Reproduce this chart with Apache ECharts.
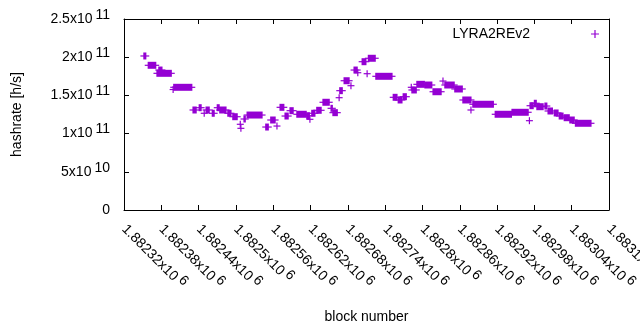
<!DOCTYPE html>
<html>
<head>
<meta charset="utf-8">
<script src="https://cdn.jsdelivr.net/npm/echarts@6/dist/echarts.min.js"></script>
<style>
    html, body { margin: 0; padding: 0; background: #fff; }
    #myChart { width: 640px; height: 330px; }
</style>
</head>
<body>
<div id="myChart"></div>
<script>
    // runs of blocks with the same hashrate (first block, last block, value)
    var runStart = [1882352, 1882359, 1882373, 1882376, 1882399, 1882400, 1882431, 1882441, 1882449, 1882452,
        1882462, 1882470, 1882474, 1882487, 1882495, 1882507, 1882508, 1882513, 1882518, 1882548,
        1882556, 1882566, 1882571, 1882579, 1882587, 1882598, 1882614, 1882619, 1882622, 1882630,
        1882640, 1882653, 1882656, 1882666, 1882667, 1882674, 1882685, 1882690, 1882696, 1882703,
        1882711, 1882713, 1882725, 1882753, 1882761, 1882769, 1882782, 1882783, 1882791, 1882804,
        1882817, 1882833, 1882836, 1882852, 1882865, 1882878, 1882881, 1882917, 1882944, 1882972,
        1882973, 1882980, 1882984, 1882997, 1883002, 1883012, 1883020, 1883028, 1883037, 1883046]
    var runEnd = [1882355, 1882371, 1882396, 1882381, 1882399, 1882429, 1882436, 1882444, 1882449, 1882457,
        1882465, 1882473, 1882484, 1882492, 1882502, 1882507, 1882508, 1882515, 1882542, 1882552,
        1882563, 1882566, 1882577, 1882584, 1882592, 1882613, 1882618, 1882619, 1882627, 1882637,
        1882650, 1882655, 1882663, 1882666, 1882671, 1882682, 1882685, 1882695, 1882696, 1882709,
        1882711, 1882724, 1882751, 1882759, 1882767, 1882774, 1882782, 1882790, 1882803, 1882815,
        1882830, 1882833, 1882851, 1882864, 1882878, 1882878, 1882914, 1882943, 1882970, 1882972,
        1882978, 1882983, 1882994, 1883000, 1883009, 1883018, 1883026, 1883036, 1883044, 1883071]
    var hashrate = [2.016e11, 1.894e11, 1.789e11, 1.832e11, 1.577e11, 1.606e11, 1.309e11, 1.339e11, 1.266e11, 1.309e11,
        1.266e11, 1.339e11, 1.309e11, 1.266e11, 1.221e11, 1.122e11, 1.069e11, 1.191e11, 1.243e11, 1.086e11,
        1.178e11, 1.099e11, 1.344e11, 1.230e11, 1.300e11, 1.253e11, 1.234e11, 1.187e11, 1.266e11, 1.305e11,
        1.410e11, 1.331e11, 1.274e11, 1.470e11, 1.562e11, 1.692e11, 1.627e11, 1.832e11, 1.797e11, 1.941e11,
        1.784e11, 1.986e11, 1.750e11, 1.475e11, 1.440e11, 1.483e11, 1.606e11, 1.571e11, 1.645e11, 1.636e11,
        1.548e11, 1.688e11, 1.636e11, 1.584e11, 1.440e11, 1.309e11, 1.384e11, 1.253e11, 1.279e11, 1.169e11,
        1.365e11, 1.397e11, 1.352e11, 1.361e11, 1.296e11, 1.270e11, 1.230e11, 1.208e11, 1.178e11, 1.135e11]

    var seriesName = 'LYRA2REv2'
    var color = '#9400d3'
    var font = 'Liberation Sans'
    var plusPath = 'path://M0,3.4H8V4.6H0Z M3.4,0H4.6V8H3.4Z'

    var data = []
    for (var i = 0; i < runStart.length; i++) {
        data.push([runStart[i], runEnd[i], hashrate[i]])
    }

    // 2.5x10^11 style labels, exponent raised
    function sciLabel (v) {
        if (v === 0) {
            return '0'
        }
        var exp = Math.floor(Math.log10(Math.abs(v)) + 1e-9)
        var mant = parseFloat((v / Math.pow(10, exp)).toPrecision(6))
        return mant + 'x10{e|' + exp + '}'
    }
    var rich = {
        e: { fontFamily: font, fontSize: 14, color: '#000', padding: [0, 0, 8, 3] }
    }

    var myChart = echarts.init(document.getElementById('myChart'))
    myChart.setOption({
        animation: false,
        textStyle: { fontFamily: font, fontSize: 14 },
        legend: {
            right: 36,
            top: 22,
            align: 'right',
            itemWidth: 8,
            itemHeight: 8,
            textStyle: { fontFamily: font, fontSize: 14, color: '#000', padding: [0, 56, 0, 0] },
            data: [{ name: seriesName, icon: plusPath }]
        },
        grid: { left: 124, right: 31, top: 19, bottom: 120, containLabel: false, outerBoundsMode: 'none' },
        xAxis: [{
            type: 'value',
            min: 1882320,
            max: 1883100,
            interval: 60,
            name: 'block number',
            nameLocation: 'middle',
            nameGap: 100,
            nameTextStyle: { fontFamily: font, fontSize: 14, color: '#000' },
            axisLine: { onZero: false, lineStyle: { color: '#000', width: 1 } },
            axisTick: { inside: true, length: 5, lineStyle: { color: '#000' } },
            splitLine: { show: false },
            axisLabel: {
                interval: 0,
                rotate: -45,
                margin: 17,
                color: '#000',
                fontFamily: font,
                fontSize: 14,
                hideOverlap: false,
                formatter: function (v) { return sciLabel(v) },
                rich: rich
            }
        }, {
            type: 'value',
            position: 'top',
            min: 1882320,
            max: 1883100,
            interval: 60,
            axisLine: { onZero: false, lineStyle: { color: '#000', width: 1 } },
            axisTick: { inside: true, length: 5, lineStyle: { color: '#000' } },
            splitLine: { show: false },
            axisLabel: { show: false }
        }],
        yAxis: [{
            type: 'value',
            min: 0,
            max: 2.5e11,
            interval: 5e10,
            name: 'hashrate [h/s]',
            nameLocation: 'middle',
            nameGap: 100,
            nameTextStyle: { fontFamily: font, fontSize: 14, color: '#000' },
            axisLine: { show: true, onZero: false, lineStyle: { color: '#000', width: 1 } },
            axisTick: { show: true, inside: true, length: 5, lineStyle: { color: '#000' } },
            splitLine: { show: false },
            axisLabel: {
                margin: 14,
                color: '#000',
                fontFamily: font,
                fontSize: 14,
                formatter: function (v) { return sciLabel(v) },
                rich: rich
            }
        }, {
            type: 'value',
            position: 'right',
            min: 0,
            max: 2.5e11,
            interval: 5e10,
            axisLine: { show: true, onZero: false, lineStyle: { color: '#000', width: 1 } },
            axisTick: { show: true, inside: true, length: 5, lineStyle: { color: '#000' } },
            splitLine: { show: false },
            axisLabel: { show: false }
        }],
        series: [{
            name: seriesName,
            type: 'custom',
            xAxisIndex: 0,
            yAxisIndex: 0,
            itemStyle: { color: color },
            encode: { x: [0, 1], y: 2 },
            data: data,
            // one "+" per block: the run is the union of the crosses
            renderItem: function (params, api) {
                var p1 = api.coord([api.value(0), api.value(2)])
                var p2 = api.coord([api.value(1), api.value(2)])
                var arm = 3.5
                var w = 0.6
                return {
                    type: 'group',
                    children: [{
                        type: 'rect',
                        shape: { x: p1[0] - arm, y: p1[1] - w, width: p2[0] - p1[0] + 2 * arm, height: 2 * w },
                        style: { fill: color }
                    }, {
                        type: 'rect',
                        shape: { x: p1[0] - w, y: p1[1] - arm, width: p2[0] - p1[0] + 2 * w, height: 2 * arm },
                        style: { fill: color }
                    }]
                }
            }
        }]
    })
</script>
</body>
</html>
